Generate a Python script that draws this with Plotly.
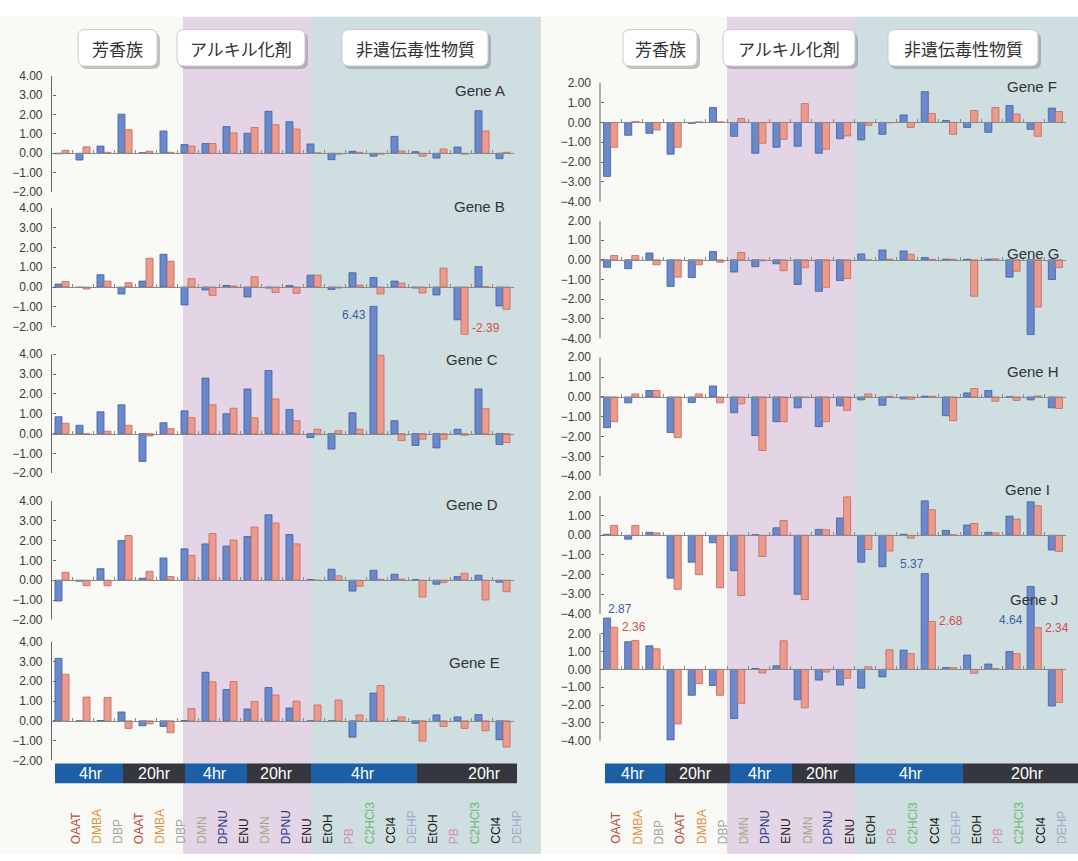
import plotly.graph_objects as go

W, H = 1078, 861

# ---------------------------------------------------------------- data
categories = ["OAAT", "DMBA", "DBP", "OAAT", "DMBA", "DBP",
              "DMN", "DPNU", "ENU", "DMN", "DPNU", "ENU",
              "EtOH", "PB", "C2HCl3", "CCl4", "DEHP",
              "EtOH", "PB", "C2HCl3", "CCl4", "DEHP"]
category_colors = {"OAAT": "#b94a3c", "DMBA": "#d9963f", "DBP": "#a3a3a3",
                   "DMN": "#a2ab8a", "DPNU": "#26388a", "ENU": "#222222",
                   "EtOH": "#222222", "PB": "#d28fb5", "C2HCl3": "#6dbb72",
                   "CCl4": "#111111", "DEHP": "#a9a6c8"}
group_titles = ["芳香族", "アルキル化剤", "非遺伝毒性物質"]
time_labels = ["4hr", "20hr", "4hr", "20hr", "4hr", "20hr"]
gene_names = ["Gene A", "Gene B", "Gene C", "Gene D", "Gene E",
              "Gene F", "Gene G", "Gene H", "Gene I", "Gene J"]

gene_a_blue = [-0.03, -0.35, 0.37, 2.02, 0.03, 1.15, 0.45, 0.50, 1.38, 1.03, 2.17,
               1.63, 0.48, -0.33, 0.10, -0.15, 0.87, 0.08, -0.25, 0.32, 2.20, -0.28]
gene_a_red = [0.15, 0.33, 0.05, 1.22, 0.10, 0.05, 0.37, 0.50, 1.05, 1.33, 1.47,
              1.25, 0.02, -0.05, 0.05, -0.05, 0.12, -0.15, 0.22, -0.05, 1.15, 0.05]

gene_b_blue = [0.15, -0.02, 0.62, -0.35, 0.30, 1.65, -0.90, -0.15, 0.08, -0.50, -0.05,
               0.08, 0.60, -0.12, 0.72, 0.48, 0.30, -0.05, -0.40, -1.65, 1.03, -0.95]
gene_b_red = [0.28, -0.10, 0.30, 0.22, 1.45, 1.30, 0.42, -0.42, 0.05, 0.52, -0.28,
              -0.32, 0.60, -0.05, 0.10, -0.35, 0.20, -0.30, 0.95, -2.39, 0.02, -1.12]

gene_c_blue = [0.85, 0.42, 1.10, 1.45, -1.40, 0.55, 1.15, 2.80, 1.00, 2.25, 3.18,
               1.22, -0.20, -0.78, 1.05, 6.43, 0.65, -0.60, -0.72, 0.22, 2.25, -0.55]
gene_c_red = [0.52, -0.05, 0.12, 0.42, -0.12, 0.25, 0.80, 1.45, 1.28, 0.80, 1.75,
              0.65, 0.22, 0.15, 0.22, 3.95, -0.35, -0.28, -0.28, -0.08, 1.25, -0.45]

gene_d_blue = [-1.05, -0.05, 0.58, 2.00, 0.10, 1.12, 1.58, 1.83, 1.72, 2.20, 3.30,
               2.30, 0.03, 0.55, -0.55, 0.50, 0.30, 0.03, -0.20, 0.18, 0.25, -0.10]
gene_d_red = [0.40, -0.28, -0.28, 2.25, 0.45, 0.18, 1.25, 2.35, 2.02, 2.68, 2.88,
              1.83, 0.00, 0.22, -0.30, 0.05, 0.05, -0.85, -0.12, 0.35, -1.00, -0.58]

gene_e_blue = [3.15, 0.00, 0.02, 0.45, -0.25, -0.28, 0.02, 2.45, 1.58, 0.60, 1.68,
               0.65, 0.00, 0.00, -0.82, 1.40, 0.02, -0.12, 0.30, 0.20, 0.32, -0.95]
gene_e_red = [2.35, 1.20, 1.18, -0.38, -0.15, -0.60, 0.62, 1.97, 1.98, 0.97, 1.30,
              1.00, 0.80, 1.05, 0.30, 1.78, 0.20, -1.02, -0.28, -0.38, -0.50, -1.32]

gene_f_blue = [-2.72, -0.65, -0.55, -1.60, -0.05, 0.75, -0.70, -1.55, -1.25, -1.20, -1.55,
               -0.82, -0.88, -0.60, 0.38, 1.55, 0.10, -0.25, -0.50, 0.85, -0.35, 0.72]
gene_f_red = [-1.25, 0.05, -0.38, -1.25, 0.03, 0.03, 0.20, -1.05, -0.85, 0.95, -1.35,
              -0.68, -0.15, -0.02, -0.25, 0.45, -0.60, 0.60, 0.75, 0.42, -0.70, 0.55]

gene_g_blue = [-0.38, -0.45, 0.35, -1.35, -0.90, 0.42, -0.62, -0.35, -0.20, -1.25, -1.60,
               -1.05, 0.30, 0.50, 0.45, 0.12, 0.03, 0.03, 0.03, -0.88, -3.80, -1.00]
gene_g_red = [0.22, 0.22, -0.25, -0.88, -0.25, -0.12, 0.38, -0.05, -0.55, -0.40, -1.40,
              -0.95, -0.02, 0.03, 0.28, 0.03, 0.03, -1.85, 0.05, -0.58, -2.40, -0.40]

gene_h_blue = [-1.55, -0.30, 0.32, -1.80, -0.28, 0.55, -0.80, -1.95, -1.25, -0.55, -1.50,
               -0.45, -0.15, -0.42, -0.10, 0.03, -0.95, 0.20, 0.32, 0.00, -0.15, -0.55]
gene_h_red = [-1.25, 0.15, 0.32, -2.05, 0.15, -0.30, -0.35, -2.70, -1.25, -0.03, -1.25,
              -0.68, 0.15, 0.03, -0.12, 0.03, -1.20, 0.42, -0.22, -0.18, 0.05, -0.58]

gene_i_blue = [0.05, -0.20, 0.15, -2.18, -1.37, -0.38, -1.80, 0.03, 0.38, -3.00, 0.30,
               0.88, -1.37, -1.60, 0.05, 1.75, 0.25, 0.52, 0.15, 0.97, 1.70, -0.75]
gene_i_red = [0.50, 0.50, 0.12, -2.75, -2.00, -2.67, -3.07, -1.08, 0.75, -3.27, 0.28,
              1.95, -0.72, -0.80, -0.15, 1.30, 0.03, 0.60, 0.12, 0.82, 1.50, -0.82]

gene_j_blue = [2.87, 1.55, 1.32, -3.95, -1.45, -0.90, -2.75, 0.05, 0.20, -1.70, -0.60,
               -0.88, -1.05, -0.42, 1.08, 5.37, 0.10, 0.80, 0.30, 1.00, 4.64, -2.05]
gene_j_red = [2.36, 1.62, 1.15, -3.05, -0.80, -1.45, -1.90, -0.20, 1.60, -2.15, -0.15,
              -0.50, 0.15, 1.10, 0.88, 2.68, 0.10, -0.22, 0.05, 0.88, 2.34, -1.85]

series = [(gene_a_blue, gene_a_red), (gene_b_blue, gene_b_red), (gene_c_blue, gene_c_red),
          (gene_d_blue, gene_d_red), (gene_e_blue, gene_e_red), (gene_f_blue, gene_f_red),
          (gene_g_blue, gene_g_red), (gene_h_blue, gene_h_red), (gene_i_blue, gene_i_red),
          (gene_j_blue, gene_j_red)]

# ---------------------------------------------------------------- styling
BLUE, BLUE_EDGE = "#6a88cc", "#3f5f9e"
RED, RED_EDGE = "#ec9a8c", "#c2685f"
BAND_BLUE, BAND_DARK = "#1d5fa6", "#36373e"
BG_WHITE, BG_PURPLE, BG_TEAL = "#f9f9f6", "#e4d5e6", "#cfdee1"
AXIS = "#666666"
FONT = "Liberation Sans, Arial, sans-serif"
CJK = "Noto Sans CJK JP"
BAR_GAP = 0.33

# pixel geometry of the two panels
panel_x = [(51.5, 513.5), (600.0, 1066.0)]
rows_px = [(70, 188), (204, 325), (353, 474), (502, 623), (645, 766),
           (77, 198), (217, 337), (356, 477), (497, 617), (637, 746)]
ranges = [[-2, 4]] * 5 + [[-4, 2]] * 5


def px(x):
    return x / W


def py(y):
    return 1 - y / H


def value_py(k, v):
    top, bot = rows_px[k]
    lo, hi = ranges[k]
    return py(top + (hi - v) / (hi - lo) * (bot - top))


idx = list(range(len(categories)))
fig = go.Figure()
layout = dict(
    width=W, height=H, margin=dict(l=0, r=0, t=0, b=0),
    paper_bgcolor="white", plot_bgcolor="rgba(0,0,0,0)",
    barmode="group", bargap=BAR_GAP, bargroupgap=0.0, showlegend=False,
    font=dict(family=FONT, color="#333333"),
)
shapes = []
annotations = []

for k, (blue, red) in enumerate(series):
    n = k + 1
    xa, ya = f"x{n}", f"y{n}"
    x0, x1 = panel_x[0] if k < 5 else panel_x[1]
    top, bot = rows_px[k]
    lo, hi = ranges[k]
    for vals, fill, edge in ((blue, BLUE, BLUE_EDGE), (red, RED, RED_EDGE)):
        fig.add_trace(go.Bar(x=idx, y=vals, xaxis=xa, yaxis=ya,
                             marker=dict(color=fill, line=dict(color=edge, width=0.8)),
                             hoverinfo="skip"))
    # let the plotting area grow past the labelled span so that long bars keep
    # their true length on the same scale
    unit = (bot - top) / (hi - lo)
    all_vals = blue + red
    ext_hi = max(hi, max(all_vals) + 0.02)
    ext_lo = min(lo, min(all_vals) - 0.02)
    dom_top = top - (ext_hi - hi) * unit
    dom_bot = bot + (lo - ext_lo) * unit

    layout[f"xaxis{n}"] = dict(
        domain=[px(x0), px(x1)], range=[-0.5, len(categories) - 0.5],
        anchor="free", position=value_py(k, 0), showgrid=False, zeroline=False,
        showline=True, linecolor="#8a8a8a", linewidth=1,
        ticks="inside", ticklen=3, tickcolor="#8a8a8a",
        tickvals=[i + 0.5 for i in idx[:-1]], showticklabels=False,
    )
    layout[f"yaxis{n}"] = dict(
        domain=[py(dom_bot), py(dom_top)], range=[ext_lo, ext_hi],
        anchor="free", position=px(x0),
        showgrid=False, zeroline=False, showline=False,
        ticks="inside", ticklen=3, tickcolor=AXIS,
        tickvals=list(range(lo, hi + 1)), tickformat=".2f",
        tickfont=dict(size=12, color="#3a3a3a", family=FONT), ticklabelstandoff=9,
    )
    # value axis line over the labelled span only
    shapes.append(dict(type="line", xref="paper", yref=ya, x0=px(x0), x1=px(x0),
                       y0=lo, y1=hi, line=dict(color=AXIS, width=1)))

# background colour bands of the three compound classes
for (a, b, c) in [(0, 183, BG_WHITE), (183, 311, BG_PURPLE), (311, 541, BG_TEAL),
                  (541, 727, BG_WHITE), (727, 855, BG_PURPLE), (855, 1078, BG_TEAL)]:
    shapes.append(dict(type="rect", xref="paper", yref="paper", layer="below",
                       x0=px(a), x1=px(b), y0=0, y1=py(10), fillcolor=c, line_width=0))


def rounded(x0, y0, x1, y1, r):
    pts = [f"M {px(x0 + r)} {py(y0)}", f"L {px(x1 - r)} {py(y0)}",
           f"Q {px(x1)} {py(y0)} {px(x1)} {py(y0 + r)}", f"L {px(x1)} {py(y1 - r)}",
           f"Q {px(x1)} {py(y1)} {px(x1 - r)} {py(y1)}", f"L {px(x0 + r)} {py(y1)}",
           f"Q {px(x0)} {py(y1)} {px(x0)} {py(y1 - r)}", f"L {px(x0)} {py(y0 + r)}",
           f"Q {px(x0)} {py(y0)} {px(x0 + r)} {py(y0)}", "Z"]
    return " ".join(pts)


# class header boxes
header_boxes = [(78, 157), (177, 305), (342, 488), (623, 697), (723, 855), (888, 1038)]
for j, (a, b) in enumerate(header_boxes):
    shapes.append(dict(type="path", xref="paper", yref="paper", layer="below",
                       path=rounded(a + 2, 26, b + 3, 63, 7),
                       fillcolor="rgba(110,110,110,0.4)", line_width=0))
    shapes.append(dict(type="path", xref="paper", yref="paper", layer="below",
                       path=rounded(a, 23, b, 60, 7),
                       fillcolor="white", line=dict(color="#c9c9c9", width=1)))
    annotations.append(dict(text=group_titles[j % 3], xref="paper", yref="paper",
                            x=px((a + b) / 2), y=py(42), showarrow=False,
                            xanchor="center", yanchor="middle",
                            font=dict(family=CJK, size=17, color="#333333")))

# exposure-time bands under each panel
time_bands = [[(55, 123, 91), (123, 185, 154), (185, 247, 215), (247, 311, 276),
               (311, 417, 363), (417, 517, 484)],
              [(605, 665, 633), (665, 730, 695), (730, 792, 760), (792, 855, 822),
               (855, 963, 911), (963, 1078, 1027)]]
for bands in time_bands:
    for j, (a, b, c) in enumerate(bands):
        shapes.append(dict(type="rect", xref="paper", yref="paper", layer="below",
                           x0=px(a), x1=px(b), y0=py(789), y1=py(769),
                           fillcolor=BAND_BLUE if j % 2 == 0 else BAND_DARK, line_width=0))
        annotations.append(dict(text=time_labels[j], xref="paper", yref="paper",
                                x=px(c), y=py(779), showarrow=False,
                                xanchor="center", yanchor="middle",
                                font=dict(family=FONT, size=16, color="white")))

# rotated compound names
for n, shift in ((5, 14), (10, 6)):
    for i, name in enumerate(categories):
        annotations.append(dict(text=name, xref=f"x{n}", yref="paper", x=i, xshift=shift,
                                y=py(853), textangle=-90, showarrow=False,
                                xanchor="center", yanchor="bottom",
                                font=dict(family=FONT, size=12,
                                          color=category_colors[name])))

# gene names
gene_pos = [(507, 85, "right"), (507, 203, "right"), (500, 358, "right"),
            (500, 506, "right"), (502, 666, "right"),
            (1005, 81, "left"), (1005, 251, "left"), (1005, 371, "left"),
            (1003, 490, "left"), (1008, 602, "left")]
for name, (gx, gy, anc) in zip(gene_names, gene_pos):
    annotations.append(dict(text=name, xref="paper", yref="paper", x=px(gx), y=py(gy),
                            showarrow=False, xanchor=anc, yanchor="middle",
                            font=dict(family=FONT, size=15, color="#333333")))

# value labels for the bars that run past the labelled span
HALF = (1 - BAR_GAP) / 2
VAL_BLUE, VAL_RED = "#3d5f9e", "#d0504a"
# (subplot, category, series, x offset, xanchor, paper y, yanchor)
value_notes = [
    (1, 19, 1, HALF, "left", value_py(1, -2.05), "middle"),
    (2, 15, 0, -HALF, "right", value_py(2, gene_c_blue[15]), "top"),
    (9, 0, 0, -HALF, "left", value_py(9, gene_j_blue[0]), "bottom"),
    (9, 0, 1, HALF, "left", value_py(9, gene_j_red[0]), "middle"),
    (9, 15, 0, 0.0, "right", value_py(9, gene_j_blue[15]), "bottom"),
    (9, 15, 1, HALF, "left", value_py(9, gene_j_red[15]), "middle"),
    (9, 20, 0, -HALF, "right", py(623), "middle"),
    (9, 20, 1, HALF, "left", value_py(9, gene_j_red[20]), "middle"),
]
for k, i, s, dx, xanc, ypos, yanc in value_notes:
    v = series[k][s][i]
    annotations.append(dict(
        text=f"{v:.2f}", xref=f"x{k + 1}", yref="paper", x=i + dx, y=ypos,
        showarrow=False, xanchor=xanc, yanchor=yanc,
        xshift=2 if xanc == "left" else (-2 if xanc == "right" else 0),
        font=dict(family=FONT, size=12, color=VAL_BLUE if s == 0 else VAL_RED)))

layout["shapes"] = shapes
layout["annotations"] = annotations
fig.update_layout(**layout)
fig.write_html("out.html")
